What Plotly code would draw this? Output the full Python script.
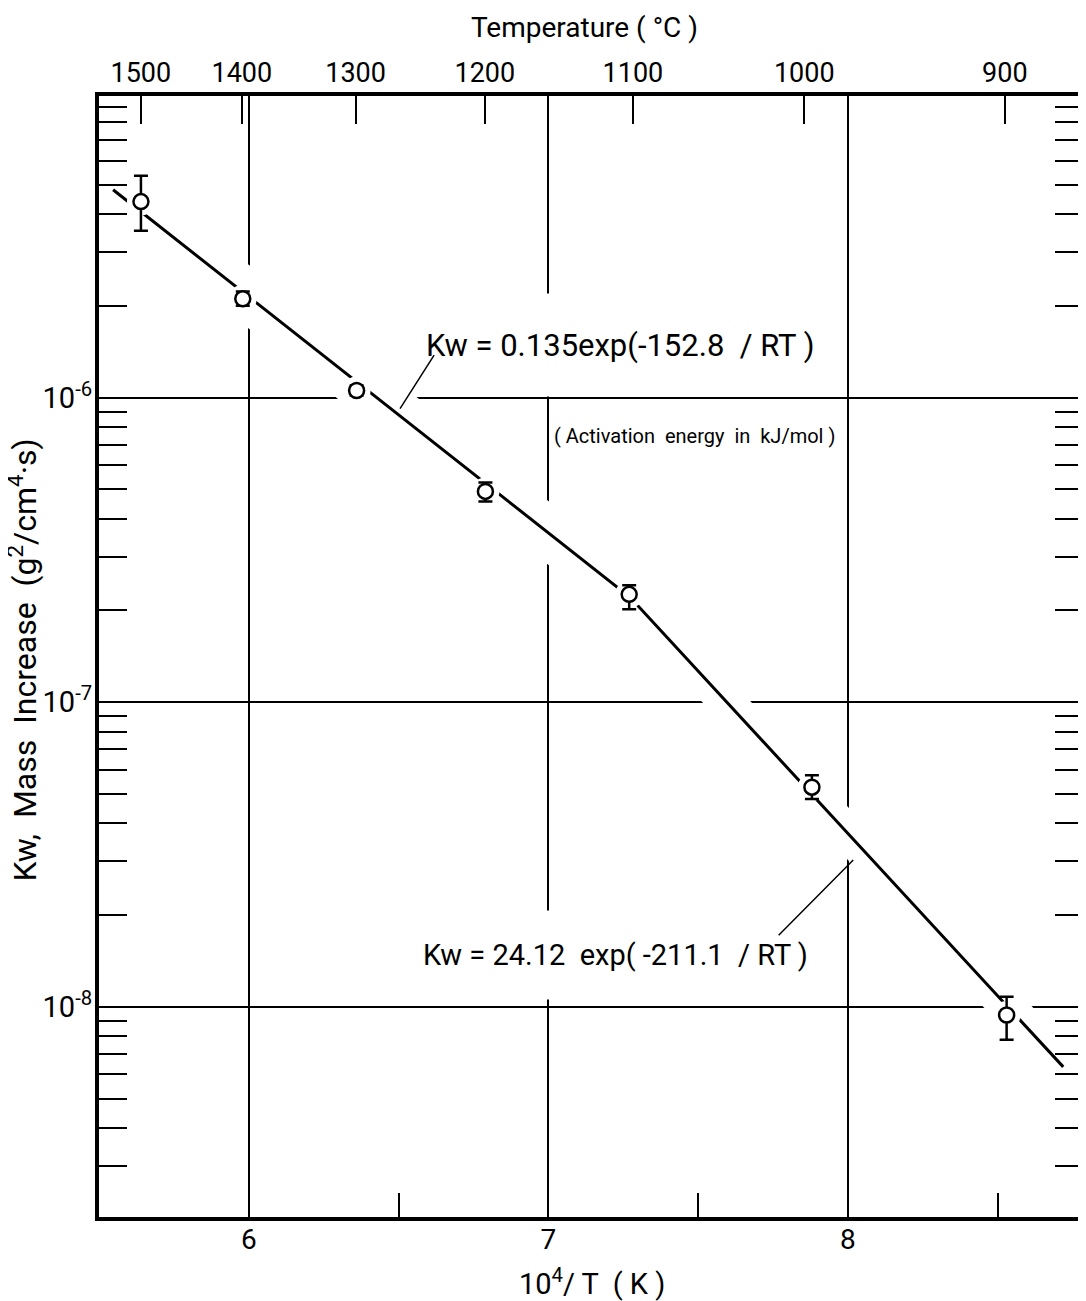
import plotly.graph_objects as go

# ---- data ----
inv_T = [5.64, 5.98, 6.36, 6.79, 7.27, 7.88, 8.53]            # 10^4/T (K)
kw = [4.40e-6, 2.11e-6, 1.055e-6, 4.92e-7, 2.26e-7, 5.26e-8, 9.4e-9]
err_plus = [0.95e-6, 0.12e-6, 0.04e-6, 0.34e-7, 0.16e-7, 0.50e-8, 1.4e-9]
err_minus = [0.87e-6, 0.11e-6, 0.04e-6, 0.36e-7, 0.24e-7, 0.45e-8, 1.6e-9]

# fitted Arrhenius lines (two regimes), end / break points
fit_x = [5.547, 7.273, 8.719]
fit_y = [4.81e-6, 2.21e-7, 6.35e-9]

# axes
x_ticks = [6, 7, 8]
x_minor = [6.5, 7.5, 8.5]
y_ticks = [1e-8, 1e-7, 1e-6]
y_ticktext = ["10<sup>-8</sup>", "10<sup>-7</sup>", "10<sup>-6</sup>"]
temp_labels = [1500, 1400, 1300, 1200, 1100, 1000, 900]     # deg C
x_range = [5.5, 8.785]
y_range = [-8.69, -5.01]

FONT = "Roboto"
temp_pos = [1e4 / (t + 273.15) for t in temp_labels]
y_minor = [m * 10.0 ** e for e in range(-9, -4) for m in range(2, 10)]

fig = go.Figure()

# white halos to break the grid where the fit line crosses it
fig.add_trace(go.Scatter(x=fit_x[:2], y=fit_y[:2], mode="lines",
                         line=dict(color="white", width=50), hoverinfo="skip"))
fig.add_trace(go.Scatter(x=fit_x[1:], y=fit_y[1:], mode="lines",
                         line=dict(color="white", width=36), hoverinfo="skip"))
# fit line
fig.add_trace(go.Scatter(x=fit_x, y=fit_y, mode="lines",
                         line=dict(color="black", width=3), hoverinfo="skip"))
# white halo around markers
fig.add_trace(go.Scatter(x=inv_T, y=kw, mode="markers",
                         marker=dict(size=28, color="white"), hoverinfo="skip"))
# data points
fig.add_trace(go.Scatter(
    x=inv_T, y=kw, mode="markers",
    marker=dict(symbol="circle", size=15, color="white",
                line=dict(color="black", width=2.5)),
    error_y=dict(type="data", symmetric=False, array=err_plus,
                 arrayminus=err_minus, thickness=2.5, width=7, color="black"),
))
# dummy trace to activate the top temperature axis
fig.add_trace(go.Scatter(x=[x_range[0]], y=[1e-6], xaxis="x2", mode="markers",
                         marker=dict(opacity=0), hoverinfo="skip"))

fig.update_layout(
    width=1078, height=1293,
    margin=dict(l=91, r=3, t=88, b=84),
    plot_bgcolor="white", paper_bgcolor="white",
    showlegend=False,
    font=dict(family=FONT, color="black"),
    xaxis=dict(
        automargin=False,
        range=x_range, tickvals=x_ticks, ticktext=[str(v) for v in x_ticks],
        ticks="inside", ticklen=24, tickwidth=2, tickcolor="black",
        showline=True, linewidth=4, linecolor="black", mirror=True,
        showgrid=True, gridcolor="black", gridwidth=1.5,
        zeroline=False, tickfont=dict(size=28), ticklabelstandoff=-6,
        minor=dict(tickvals=x_minor, ticks="inside", ticklen=24, tickwidth=2,
                   tickcolor="black", showgrid=False),
    ),
    xaxis2=dict(
        automargin=False,
        overlaying="x", side="top", anchor="y", range=x_range,
        tickvals=temp_pos, ticktext=[str(t) for t in temp_labels],
        ticks="inside", ticklen=28, tickwidth=2, tickcolor="black",
        showline=False, showgrid=False, zeroline=False,
        tickfont=dict(size=27), ticklabelstandoff=8,
    ),
    yaxis=dict(
        automargin=False,
        type="log", range=y_range, tickvals=y_ticks, ticktext=y_ticktext,
        ticks="inside", ticklen=28, tickwidth=2, tickcolor="black",
        showline=True, linewidth=4, linecolor="black", mirror="allticks",
        showgrid=True, gridcolor="black", gridwidth=1.5,
        zeroline=False, tickfont=dict(size=29), ticklabelstandoff=-3,
        minor=dict(tickvals=y_minor, ticks="inside", ticklen=28, tickwidth=2,
                   tickcolor="black", showgrid=False),
    ),
)

# equation labels
fig.add_annotation(x=7.240, y=-5.826, xref="x", yref="y",
                   text="Kw = 0.135exp(-152.8  / RT )", showarrow=False,
                   font=dict(size=31), bgcolor="white", height=100,
                   valign="middle")
fig.add_annotation(x=7.223, y=-7.830, xref="x", yref="y",
                   text="Kw = 24.12  exp( -211.1  / RT )", showarrow=False,
                   font=dict(size=29), bgcolor="white", height=86,
                   valign="middle")
fig.add_annotation(x=7.013, y=-6.125, xref="x", yref="y", xanchor="left",
                   text="( Activation  energy  in  kJ/mol )", showarrow=False,
                   font=dict(size=20))
# leader lines
fig.add_annotation(x=6.505, y=-6.036, xref="x", yref="y",
                   ax=6.622, ay=-5.856, axref="x", ayref="y",
                   text="", showarrow=True, arrowhead=0, arrowwidth=1.5,
                   arrowcolor="black")
fig.add_annotation(x=8.018, y=-7.518, xref="x", yref="y",
                   ax=7.764, ay=-7.770, axref="x", ayref="y",
                   text="", showarrow=True, arrowhead=0, arrowwidth=1.5,
                   arrowcolor="black")

# axis titles
fig.add_annotation(x=0.493, y=1.0611, xref="paper", yref="paper",
                   xanchor="center", yanchor="middle",
                   text="Temperature ( °C )", showarrow=False,
                   font=dict(size=28))
fig.add_annotation(x=0.501, y=-0.0582, xref="paper", yref="paper",
                   xanchor="center", yanchor="middle",
                   text="10<sup>4</sup>/ T  ( K )", showarrow=False,
                   font=dict(size=29))
fig.add_annotation(x=-0.0772, y=0.4965, xref="paper", yref="paper",
                   xanchor="center", yanchor="middle",
                   text="Kw,  Mass  Increase  (g<sup>2</sup>/cm<sup>4</sup>·s)",
                   textangle=-90, showarrow=False, font=dict(size=32))

fig.write_html("out.html")
